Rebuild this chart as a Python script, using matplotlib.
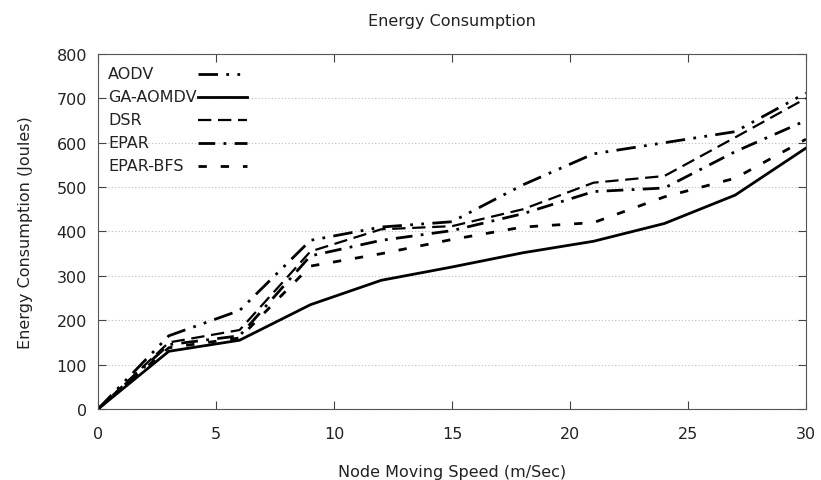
import matplotlib
matplotlib.use("Agg")
import matplotlib.pyplot as plt

speed = [0, 3, 6, 9, 12, 15, 18, 21, 24, 27, 30]
aodv = [0, 165, 222, 380, 410, 422, 505, 575, 600, 625, 712]
ga_aomdv = [0, 130, 155, 235, 290, 320, 352, 378, 418, 482, 588]
dsr = [0, 150, 178, 355, 405, 412, 450, 510, 525, 612, 700]
epar = [0, 145, 165, 345, 380, 402, 440, 490, 498, 580, 650]
epar_bfs = [0, 138, 160, 322, 350, 382, 410, 420, 478, 520, 608]

names = ['AODV', 'GA-AOMDV', 'DSR', 'EPAR', 'EPAR-BFS']
series = [aodv, ga_aomdv, dsr, epar, epar_bfs]
styles = [dict(lw=2.0, dashes=(7, 3, 1, 3, 1, 3)),
          dict(lw=2.0, ls='-'),
          dict(lw=1.6, dashes=(6, 3)),
          dict(lw=2.0, dashes=(6, 3, 1, 3)),
          dict(lw=2.0, dashes=(3, 5))]

txt = '#222222'
plt.rcParams['font.family'] = ['DejaVu Sans']
plt.rcParams['text.color'] = txt
plt.rcParams['axes.labelcolor'] = txt
fs = 11.5

fig = plt.figure(figsize=(8.21, 4.81), dpi=100)
ax = fig.add_axes([0.1194, 0.1476, 0.8623, 0.7381])

for name, vals, st in zip(names, series, styles):
    ax.plot(speed, vals, color='black', label=name, **st)

ax.set_xlim(0, 30)
ax.set_ylim(0, 800)
ax.set_xticks(range(0, 31, 5))
ax.set_yticks(range(0, 801, 100))
ax.yaxis.grid(True, linestyle=(0, (1, 2)), color='#bbbbbb', lw=0.8)
ax.tick_params(direction='in', top=True, right=True, length=6,
               labelsize=fs, labelcolor=txt, color='#444444')
ax.tick_params(axis='x', pad=12)
ax.tick_params(axis='y', pad=8)
for s in ax.spines.values():
    s.set_color('#555555')

ax.set_title('Energy Consumption', fontsize=fs, pad=21)
ax.set_xlabel('Node Moving Speed (m/Sec)', fontsize=fs, labelpad=17)
ax.set_ylabel('Energy Consumption (Joules)', fontsize=fs, labelpad=17)

# key: left-aligned names with a short sample of each line style to the right
for i, (name, st) in enumerate(zip(names, styles)):
    y = 0.944 - i * 0.0648
    ax.text(0.014, y, name, transform=ax.transAxes, fontsize=fs,
            va='center', ha='left')
    ax.plot([0.141, 0.211], [y, y], transform=ax.transAxes, color='black',
            clip_on=False, **st)

fig.savefig('out.png', dpi=100)
